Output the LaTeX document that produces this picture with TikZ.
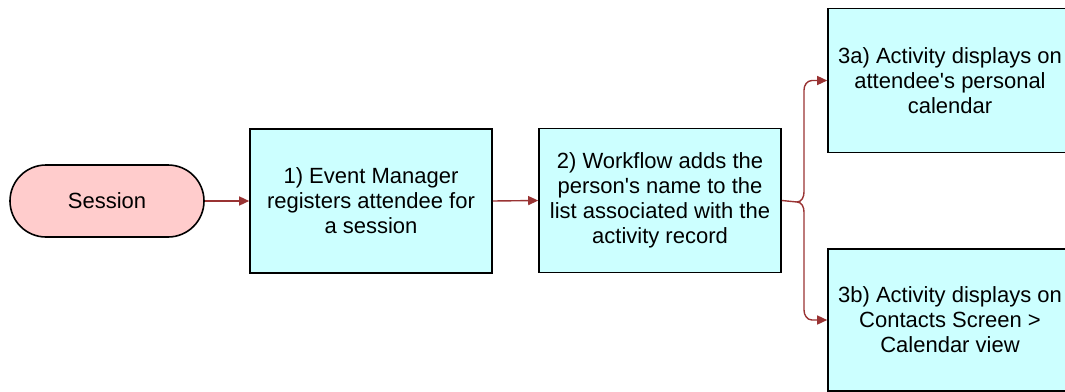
\documentclass[tikz,border=0pt]{standalone}
\usepackage{fontspec}
\setmainfont{Liberation Sans}
\usepackage{xcolor}
\usetikzlibrary{arrows.meta,shapes.misc}
\definecolor{boxfill}{HTML}{CCFFFF}
\definecolor{sessfill}{HTML}{FFCCCC}
\definecolor{flowred}{HTML}{993333}

\begin{document}
\begin{tikzpicture}[x=0.5pt,y=-0.5pt,
  stepbox/.style={rectangle,draw,line width=0.8pt,fill=boxfill,align=center,
    minimum width=121pt,minimum height=72pt,inner sep=0pt,
    font=\fontsize{11}{12.5}\selectfont},
  session/.style={rounded rectangle,draw,line width=0.8pt,fill=sessfill,
    minimum width=97pt,minimum height=36pt,inner sep=0pt,
    font=\fontsize{11}{12.5}\selectfont},
  flow/.style={draw=flowred,line width=0.7pt,-{Triangle[length=5pt,width=4.5pt]}}]
\clip (0,0) rectangle (1065,391);
%
\node (s) at (107,201) [session] {Session};
\node (b1) at (371,201) [stepbox] {1) Event Manager\\registers attendee for\\a session};
\node (b2) at (660,200.5) [stepbox] {2) Workflow adds the\\person\textquotesingle s name to the\\list associated with the\\activity record};
\node (b3a) at (950,80.5) [stepbox,minimum width=122pt] {3a) Activity displays on\\attendee\textquotesingle s personal\\calendar};
\node (b3b) at (950,320) [stepbox,minimum width=122pt,minimum height=71pt] {3b) Activity displays on\\Contacts Screen >\\Calendar view};
%
\coordinate (br) at (797,202);
%%
\draw (s.east) edge[flow] (b1.west);
\draw (b1.east) edge[flow] (b2.west);
%
\draw[draw=flowred,line width=0.7pt] (b2.east) -- (br);
\draw[flow] (br) to[out=0,in=-90] (804,192) -- (804,90) to[out=90,in=180] (812,80.5) -- (b3a.west);
\draw[flow] (br) to[out=0,in=90] (804,212) -- (804,310) to[out=-90,in=180] (812,320) -- (b3b.west);
\end{tikzpicture}
\end{document}
